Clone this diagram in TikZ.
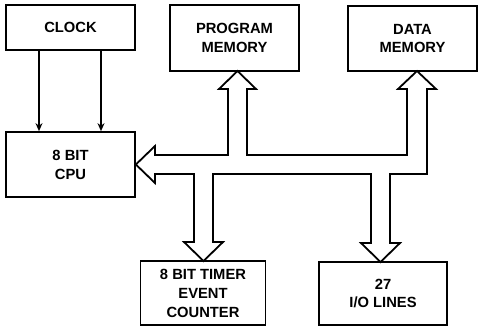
\documentclass[tikz,border=0pt]{standalone}
\usepackage{fontspec}
\setmainfont{Liberation Sans}
\usetikzlibrary{arrows.meta}
\tikzset{
  blk/.style={draw, line width=1.7bp, rectangle, inner sep=0pt, align=center,
    font=\fontsize{14.8}{19}\selectfont\bfseries},
  ctl/.style={line width=1.3bp, -{Stealth[length=8bp,width=7bp]}},
  bus/.style={draw, line width=1.8bp, line join=miter}
}
\begin{document}
\begin{tikzpicture}[x=1bp,y=-1bp]
\useasboundingbox (0,0) rectangle (479,329);
\node[blk, minimum width=129bp, minimum height=45bp] (clock) at (70.5,27.5) {CLOCK};
\node[blk, minimum width=129bp, minimum height=65bp] (cpu) at (70.5,164.5) {8 BIT\\CPU};
\node[blk, minimum width=129bp, minimum height=66bp] (prog) at (234.5,38) {PROGRAM\\MEMORY};
\node[blk, minimum width=129bp, minimum height=65bp] (data) at (412.5,38.5) {DATA\\MEMORY};
\node[blk, minimum width=125bp, minimum height=64bp] (timer) at (203,293) {8 BIT TIMER\\EVENT\\COUNTER};
\node[blk, minimum width=128bp, minimum height=63bp] (io) at (383,293.5) {27\\I/O LINES};
\draw[ctl] ([xshift=-31.5bp]clock.south) -- ([xshift=-31.5bp]cpu.north);
\draw[ctl] ([xshift=30.5bp]clock.south) -- ([xshift=30.5bp]cpu.north);
% bus
\draw[bus] (cpu.east)
  -- (155,146) -- (155,155) -- (228,155) -- (228,89) -- (219,89)
  -- (237.5,71) -- (256,89) -- (247,89) -- (247,155)
  -- (407,155) -- (407,89) -- (398,89) -- (417,71) -- (436,89) -- (427,89)
  -- (427,174) -- (390,174) -- (390,243) -- (400,243)
  -- (380.5,262) -- (361,243) -- (371,243) -- (371,174)
  -- (213,174) -- (213,242) -- (223,242) -- (203.5,261) -- (184,242) -- (194,242)
  -- (194,174) -- (155,174) -- (155,183) -- cycle;
\end{tikzpicture}
\end{document}
